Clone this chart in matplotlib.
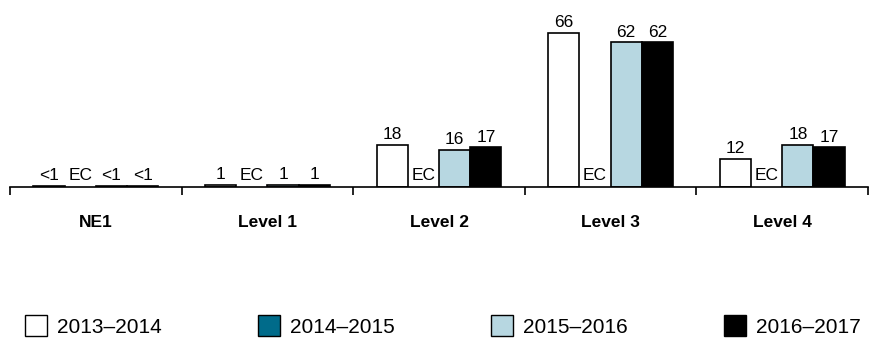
import matplotlib
matplotlib.use("Agg")
import matplotlib.pyplot as plt
import numpy as np

plt.rcParams['font.family'] = ['Liberation Sans', 'DejaVu Sans']

# percent of students at each level, by school year (None = EC)
categories = ['NE1', 'Level 1', 'Level 2', 'Level 3', 'Level 4']
years = ['2013\u20132014', '2014\u20132015', '2015\u20132016', '2016\u20132017']
y2013 = [0.4, 1, 18, 66, 12]
y2014 = [None, None, None, None, None]
y2015 = [0.4, 1, 16, 62, 18]
y2016 = [0.4, 1, 17, 62, 17]
series = [y2013, y2014, y2015, y2016]
colors = ['white', '#006b8a', '#b7d7e1', 'black']


def label_for(v):
    if v is None:
        return 'EC'
    return '<1' if v < 1 else str(int(round(v)))


fig = plt.figure(figsize=(8.75, 3.39), dpi=100)
ax = fig.add_axes([10 / 875, 1 - 187 / 339, 858 / 875, 163.3 / 339])

centers = np.arange(len(categories)) + 0.5
width = 0.182
offsets = [-1.5, -0.5, 0.5, 1.5]

for vals, color, off in zip(series, colors, offsets):
    xs = centers + off * width
    for x, v in zip(xs, vals):
        if v is None:
            ax.annotate('EC', (x, 0), xytext=(0, 3), textcoords='offset points',
                        ha='center', va='bottom', fontsize=12.5)
            continue
        ax.bar(x, v, width=width, color=color, edgecolor='black', linewidth=1.2)
        ax.annotate(label_for(v), (x, v), xytext=(0, 2), textcoords='offset points',
                    ha='center', va='bottom', fontsize=12.5)

ax.set_xlim(0, len(categories))
ax.set_ylim(0, 70)
for side in ['top', 'right', 'left']:
    ax.spines[side].set_visible(False)
ax.spines['bottom'].set_linewidth(1.2)
ax.set_yticks([])

ax.set_xticks(np.arange(len(categories) + 1))
ax.set_xticklabels([])
ax.tick_params(axis='x', which='major', direction='out', length=6, width=1.2)
ax.set_xticks(centers, minor=True)
ax.set_xticklabels(categories, minor=True, fontsize=12.5, fontweight='bold')
ax.tick_params(axis='x', which='minor', length=0, pad=20)

handles = [plt.Rectangle((0, 0), 1, 1, facecolor=c, edgecolor='black', linewidth=1)
           for c in colors]
fig.legend(handles, years, loc='center left', bbox_to_anchor=(25 / 875, 1 - 326 / 339),
           ncol=4, frameon=False, fontsize=15, handlelength=1.05, handleheight=1.15,
           handletextpad=0.5, columnspacing=4.6, borderpad=0, borderaxespad=0)

fig.savefig('out.png', dpi=100)
